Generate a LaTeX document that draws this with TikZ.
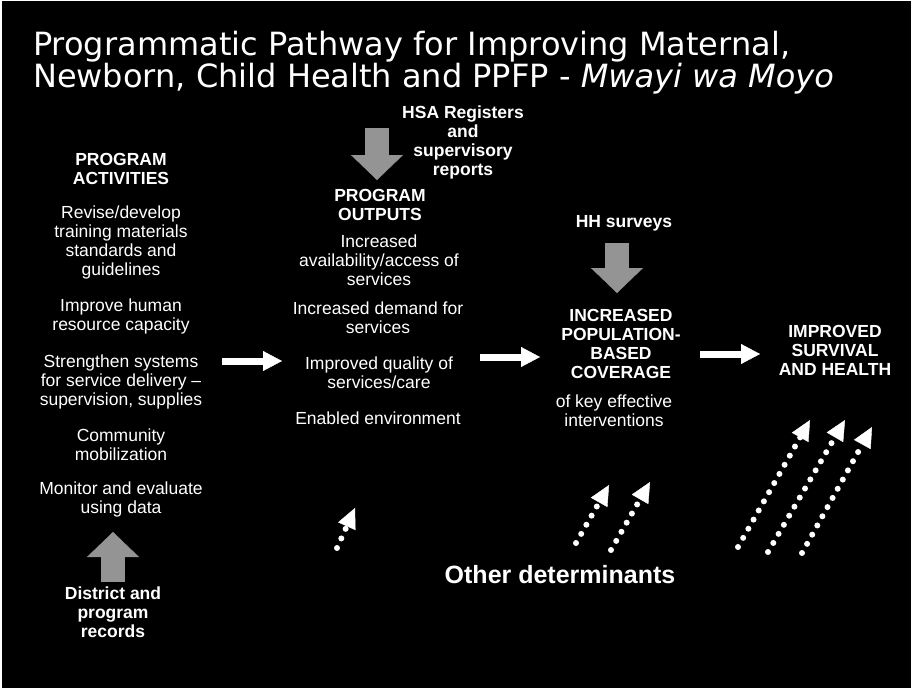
\documentclass[tikz,border=0pt]{standalone}
\usepackage{fontspec}
\setmainfont{Liberation Sans}
\newfontfamily\titlefont{DejaVu Sans}
\usetikzlibrary{arrows.meta}

\tikzset{
  body/.style={align=center,inner sep=0pt,anchor=north,text=white,
    font=\fontsize{17.5}{19}\selectfont},
  head/.style={body,font=\fontsize{17.5}{19}\selectfont\bfseries},
  flowarrow/.style={white,line width=7pt,
    -{Triangle[length=19pt,width=20pt,line width=0.4pt]}},
  datarrow/.style={black!42,line width=24pt,
    -{Triangle[length=25pt,width=52pt,line width=0.4pt]}},
  dotarrow/.style={white,line width=6pt,line cap=round,
    dash pattern=on 0pt off 10.5pt,
    -{Triangle[length=20pt,width=19pt,line width=0.4pt]}}
}

\begin{document}
\begin{tikzpicture}[x=1pt,y=-1pt]
  \useasboundingbox (0,0) rectangle (915,688);
  \fill[white] (0,0) rectangle (915,688);
  \fill[black] (2,1) rectangle (911,688);

  % title
  \node[anchor=north west,inner sep=0pt,align=left,text=white,
    font=\titlefont\fontsize{32}{28}\selectfont] (title) at (33,31)
    {Programmatic Pathway for Improving Maternal,\\
     Newborn, Child Health and PPFP - \textit{Mwayi wa Moyo}};

  % program activities
  \node[head] (acthead) at (121,153) {PROGRAM\\ACTIVITIES};
  \node[body] (act1) at (121,206) {Revise/develop\\training materials\\standards and\\guidelines};
  \node[body] (act2) at (121,299) {Improve human\\resource capacity};
  \node[body] (act3) at (121,355) {Strengthen systems\\for service delivery –\\supervision, supplies};
  \node[body] (act4) at (121,429) {Community\\mobilization};
  \node[body] (act5) at (121,482) {Monitor and evaluate\\using data};
  \node[head] (records) at (113,587) {District and\\program\\records};

  % program outputs
  \node[head] (hsa) at (463,106) {HSA Registers\\and\\supervisory\\reports};
  \node[head] (outhead) at (380,189) {PROGRAM\\OUTPUTS};
  \node[body] (out1) at (379,235) {Increased\\availability/access of\\services};
  \node[body] (out2) at (378,302) {Increased demand for\\services};
  \node[body] (out3) at (379,357) {Improved quality of\\services/care};
  \node[body] (out4) at (378,412) {Enabled environment};

  % coverage
  \node[head] (hh) at (624,215) {HH surveys};
  \node[head] (covhead) at (621,309) {INCREASED\\POPULATION-\\BASED\\COVERAGE};
  \node[body] (cov1) at (614,395) {of key effective\\interventions};

  % impact
  \node[head] (survive) at (835,325) {IMPROVED\\SURVIVAL\\AND HEALTH};

  \node[head,font=\fontsize{25}{28}\selectfont\bfseries] (other) at (560,565) {Other determinants};

  % data sources
  \coordinate (hsatop) at (377,128);
  \coordinate (hsatip) at (377,180);
  \coordinate (hhtop) at (617,243);
  \coordinate (hhtip) at (617,293);
  \coordinate (recbot) at (113,582);
  \coordinate (rectip) at (113,532);
  \draw[datarrow] (hsatop) -- (hsatip);
  \draw[datarrow] (hhtop) -- (hhtip);
  \draw[datarrow] (recbot) -- (rectip);

  % pathway arrows
  \coordinate (f1a) at (222,361);
  \coordinate (f1b) at (282,361);
  \coordinate (f2a) at (480,357);
  \coordinate (f2b) at (540,357);
  \coordinate (f3a) at (700,354);
  \coordinate (f3b) at (760,354);
  \draw[flowarrow] (f1a) -- (f1b);
  \draw[flowarrow] (f2a) -- (f2b);
  \draw[flowarrow] (f3a) -- (f3b);

  % other determinants
  \coordinate (d1a) at (337,548);
  \coordinate (d1b) at (355,508);
  \coordinate (d2a) at (576,543);
  \coordinate (d2b) at (609,485);
  \coordinate (d3a) at (611,550);
  \coordinate (d3b) at (650,482);
  \coordinate (d4a) at (738,547);
  \coordinate (d4b) at (810,420);
  \coordinate (d5a) at (768,552);
  \coordinate (d5b) at (845,420);
  \coordinate (d6a) at (802,553);
  \coordinate (d6b) at (872,427);
  \foreach \i in {1,...,6}
    \draw[dotarrow] (d\i a) -- (d\i b);
\end{tikzpicture}
\end{document}
